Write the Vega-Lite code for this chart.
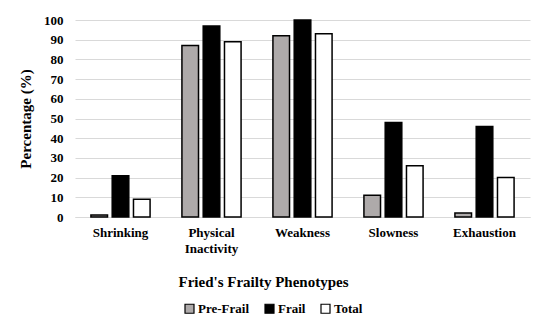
{
  "$schema": "https://vega.github.io/schema/vega-lite/v6.json",
  "width": 455,
  "height": 197,
  "autosize": {"type": "none"},
  "padding": {"left": 75, "top": 20, "right": 20, "bottom": 116},
  "background": "white",
  "data": {
    "values": [
      {"phenotype": "Shrinking", "group": "Pre-Frail", "pct": 1},
      {"phenotype": "Shrinking", "group": "Frail", "pct": 21},
      {"phenotype": "Shrinking", "group": "Total", "pct": 9},
      {"phenotype": "Physical Inactivity", "group": "Pre-Frail", "pct": 87},
      {"phenotype": "Physical Inactivity", "group": "Frail", "pct": 97},
      {"phenotype": "Physical Inactivity", "group": "Total", "pct": 89},
      {"phenotype": "Weakness", "group": "Pre-Frail", "pct": 92},
      {"phenotype": "Weakness", "group": "Frail", "pct": 100},
      {"phenotype": "Weakness", "group": "Total", "pct": 93},
      {"phenotype": "Slowness", "group": "Pre-Frail", "pct": 11},
      {"phenotype": "Slowness", "group": "Frail", "pct": 48},
      {"phenotype": "Slowness", "group": "Total", "pct": 26},
      {"phenotype": "Exhaustion", "group": "Pre-Frail", "pct": 2},
      {"phenotype": "Exhaustion", "group": "Frail", "pct": 46},
      {"phenotype": "Exhaustion", "group": "Total", "pct": 20}
    ]
  },
  "mark": {"type": "bar", "stroke": "black", "strokeWidth": 1.5},
  "encoding": {
    "x": {
      "field": "phenotype",
      "type": "nominal",
      "sort": null,
      "scale": {"paddingInner": 0.35, "paddingOuter": 0.175},
      "axis": {
        "title": "Fried's Frailty Phenotypes",
        "titleX": 188,
        "labelAngle": 0,
        "labelExpr": "split(datum.label, ' ')",
        "labelFont": "Times New Roman, Liberation Serif, serif",
        "labelFontWeight": "bold",
        "labelFontSize": 13,
        "labelColor": "black",
        "labelPadding": 9,
        "labelLineHeight": 16,
        "ticks": false,
        "domainColor": "#d9d9d9",
        "titleFont": "Times New Roman, Liberation Serif, serif",
        "titleFontWeight": "bold",
        "titleFontSize": 15,
        "titleColor": "black",
        "titlePadding": 19
      }
    },
    "xOffset": {
      "field": "group",
      "type": "nominal",
      "sort": ["Pre-Frail", "Frail", "Total"],
      "scale": {"paddingInner": 0.22}
    },
    "y": {
      "field": "pct",
      "type": "quantitative",
      "scale": {"domain": [0, 100]},
      "axis": {
        "title": "Percentage (%)",
        "values": [0, 10, 20, 30, 40, 50, 60, 70, 80, 90, 100],
        "labelOverlap": false,
        "ticks": false,
        "domain": false,
        "gridColor": "#d9d9d9",
        "labelFont": "Times New Roman, Liberation Serif, serif",
        "labelFontWeight": "bold",
        "labelFontSize": 13,
        "labelColor": "black",
        "labelPadding": 12,
        "titleFont": "Times New Roman, Liberation Serif, serif",
        "titleFontWeight": "bold",
        "titleFontSize": 15,
        "titleColor": "black",
        "titlePadding": 10
      }
    },
    "fill": {
      "field": "group",
      "type": "nominal",
      "sort": ["Pre-Frail", "Frail", "Total"],
      "scale": {"domain": ["Pre-Frail", "Frail", "Total"], "range": ["#aeaaaa", "#000000", "#ffffff"]},
      "legend": {
        "title": null,
        "orient": "none",
        "legendX": 108,
        "legendY": 282,
        "direction": "horizontal",
        "symbolType": "square",
        "symbolSize": 81,
        "symbolStrokeColor": "black",
        "symbolStrokeWidth": 1.2,
        "labelFont": "Times New Roman, Liberation Serif, serif",
        "labelFontWeight": "bold",
        "labelFontSize": 13,
        "labelColor": "black",
        "labelOffset": 2,
        "columnPadding": 12
      }
    }
  },
  "config": {
    "view": {"stroke": null}
  }
}
